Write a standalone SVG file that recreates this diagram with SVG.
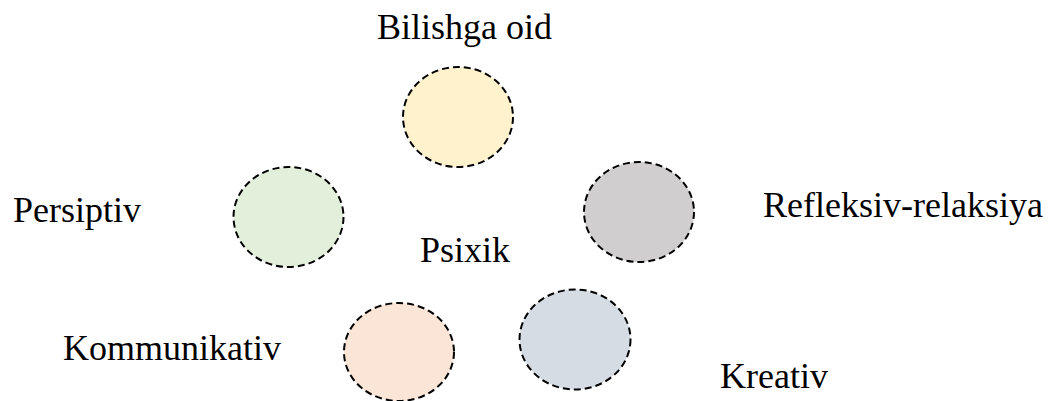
<svg xmlns="http://www.w3.org/2000/svg" width="1056" height="401" viewBox="0 0 1056 401">
<style>
.n{stroke:#000;stroke-width:2;stroke-dasharray:7 4}
.t{font-family:"Liberation Serif","Times New Roman",serif;font-size:36px;fill:#000}
</style>
<rect width="1056" height="401" fill="#fff"/>
<g id="bilishga"><ellipse class="n" cx="458" cy="117" rx="55" ry="50" fill="#FFF2CC"/></g>
<g id="persiptiv"><ellipse class="n" cx="288.5" cy="217" rx="55" ry="50" fill="#E2EFDA"/></g>
<g id="refleksiv"><ellipse class="n" cx="639" cy="212" rx="55" ry="50" fill="#D0CECE"/></g>
<g id="kommunikativ"><ellipse class="n" cx="399" cy="352" rx="55" ry="49" fill="#FBE5D6"/></g>
<g id="kreativ"><ellipse class="n" cx="575" cy="339.5" rx="55.5" ry="50" fill="#D6DCE4"/></g>
<g id="labels">
<text class="t" x="377" y="39">Bilishga oid</text>
<text class="t" x="13" y="222">Persiptiv</text>
<text class="t" x="420" y="262">Psixik</text>
<text class="t" x="763" y="217">Refleksiv-relaksiya</text>
<text class="t" x="63" y="360">Kommunikativ</text>
<text class="t" x="720" y="388">Kreativ</text>
</g>
<g id="connectors"></g>
</svg>
